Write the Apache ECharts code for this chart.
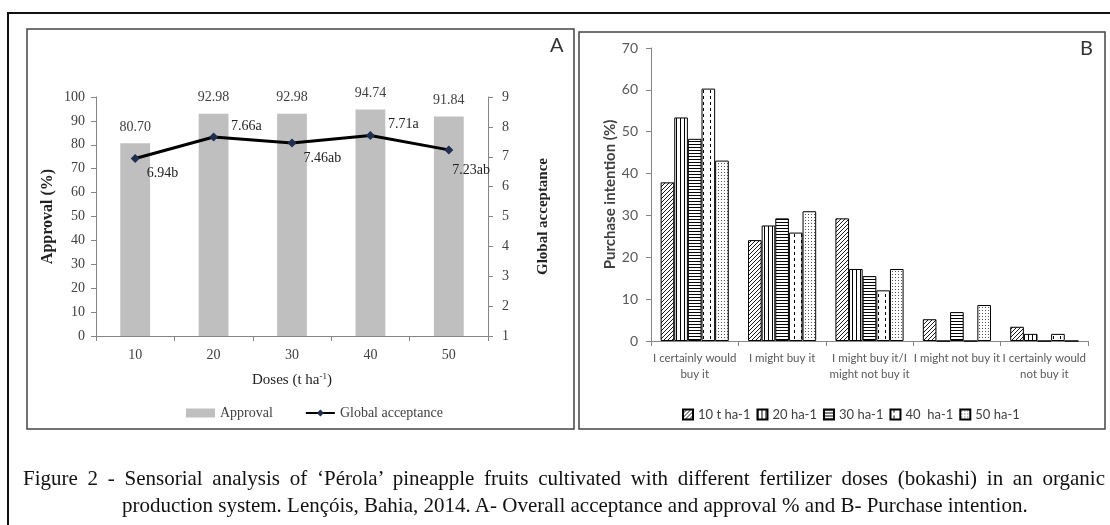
<!DOCTYPE html>
<html>
<head>
<meta charset="utf-8">
<script src="https://cdn.jsdelivr.net/npm/echarts@6/dist/echarts.min.js"></script>
<style>
html,body{margin:0;padding:0;background:#fff;}
#wrap{position:relative;width:1110px;height:525px;overflow:hidden;}
#chart{position:absolute;left:0;top:0;width:1110px;height:525px;}
.cap{position:absolute;font-family:'Liberation Serif','Times New Roman',serif;font-size:21px;line-height:27px;color:#111;white-space:nowrap;}
#cap1{left:23px;width:1082px;top:465px;text-align:justify;text-align-last:justify;}
#cap2{left:122px;top:492px;text-align:left;}
</style>
</head>
<body>
<div id="wrap">
<div id="chart"></div>
<div class="cap" id="cap1">Figure 2 - Sensorial analysis of ‘Pérola’ pineapple fruits cultivated with different fertilizer doses (bokashi) in an organic</div>
<div class="cap" id="cap2">production system. Lençóis, Bahia, 2014. A- Overall acceptance and approval % and B- Purchase intention.</div>
</div>
<script>
// ---------- Panel A data ----------
const doses = ['10', '20', '30', '40', '50'];
const approval = [80.70, 92.98, 92.98, 94.74, 91.84];
const acceptance = [6.94, 7.66, 7.46, 7.71, 7.23];
const acceptanceLetters = ['b', 'a', 'ab', 'a', 'ab'];

// ---------- Panel B data ----------
const intentions = ['I certainly would\nbuy it', 'I might buy it', 'I might buy it/I\nmight not buy it', 'I might not buy it', 'I certainly would\nnot buy it'];
const doseNamesB = ['10 t ha-1', '20 ha-1', '30 ha-1', '40  ha-1', '50 ha-1'];
const dose10 = [37.9, 24.1, 29.3, 5.2, 3.4];
const dose20 = [53.4, 27.6, 17.2, 0, 1.7];
const dose30 = [48.3, 29.3, 15.5, 6.9, 0];
const dose40 = [60.3, 25.9, 12.1, 0, 1.7];
const dose50 = [43.1, 31.0, 17.2, 8.6, 0];

// ---------- patterns ----------
function makePattern(w, h, draw) {
  const c = document.createElement('canvas');
  c.width = w; c.height = h;
  const ctx = c.getContext('2d');
  ctx.fillStyle = '#fff'; ctx.fillRect(0, 0, w, h);
  ctx.strokeStyle = '#000'; ctx.fillStyle = '#000';
  draw(ctx, w, h);
  return { image: c, repeat: 'repeat' };
}
const patDiag = makePattern(4, 4, (ctx) => {
  ctx.lineWidth = 0.9;
  ctx.beginPath();
  ctx.moveTo(0, 4); ctx.lineTo(4, 0);
  ctx.moveTo(-1, 1); ctx.lineTo(1, -1);
  ctx.moveTo(3, 5); ctx.lineTo(5, 3);
  ctx.stroke();
});
const patVert = makePattern(4, 1, (ctx) => { ctx.fillRect(0, 0, 1, 1); });
const patHorz = makePattern(1, 3, (ctx) => { ctx.fillRect(0, 0, 1, 1); });
const patDash = makePattern(7, 6, (ctx) => { ctx.fillRect(3, 0, 1, 3); });
const patDot = makePattern(3, 3, (ctx) => { ctx.fillStyle = '#555'; ctx.fillRect(1, 1, 1, 1); });
const patterns = [patDiag, patVert, patHorz, patDash, patDot];
const seriesB = [dose10, dose20, dose30, dose40, dose50];

const serif = "'Liberation Serif','Times New Roman',serif";
const sans = "Lato,'Open Sans',sans-serif";
const axisGray = '#868686';

const chart = echarts.init(document.getElementById('chart'), null, { renderer: 'canvas' });

const lastIdx = acceptance.length - 1;
const lineData = acceptance.map((v, i) => ({
  value: v,
  label: {
    position: 'right',
    distance: 5,
    offset: i === lastIdx ? [-6, 20] : (i % 2 === 1 ? [8, -11] : [2, 15])
  }
}));

const barSeriesB = seriesB.map((arr, k) => ({
  name: doseNamesB[k],
  type: 'bar',
  xAxisIndex: 1,
  yAxisIndex: 2,
  data: arr,
  barGap: '0%',
  barCategoryGap: '22%',
  itemStyle: { color: patterns[k], borderColor: '#000', borderWidth: 1 },
  emphasis: { disabled: true }
}));

const option = {
  animation: false,
  textStyle: { fontFamily: serif },
  graphic: [
    { type: 'rect', shape: { x: 8, y: 13, width: 1120, height: 530 }, style: { fill: 'none', stroke: '#111', lineWidth: 2 }, silent: true },
    { type: 'rect', shape: { x: 27, y: 29, width: 547, height: 400 }, style: { fill: 'none', stroke: '#444', lineWidth: 1.5 }, silent: true },
    { type: 'rect', shape: { x: 579, y: 32, width: 526, height: 397 }, style: { fill: 'none', stroke: '#444', lineWidth: 1.5 }, silent: true },
    { type: 'text', left: 550, top: 36, style: { text: 'A', font: "20px Lato, 'Open Sans', sans-serif", fill: '#333' } },
    { type: 'text', left: 1080, top: 39, style: { text: 'B', font: "20px Lato, 'Open Sans', sans-serif", fill: '#333' } }
  ],
  legend: [
    {
      data: [
        { name: 'Approval', icon: 'rect' },
        { name: 'Global acceptance' }
      ],
      left: 181, top: 401,
      itemWidth: 29, itemHeight: 9, itemGap: 32,
      textStyle: { fontFamily: serif, fontSize: 14, color: '#404040' },
      selectedMode: false
    },
    {
      data: doseNamesB.map((n) => ({ name: n, icon: 'rect' })),
      left: 677, top: 403,
      itemWidth: 10, itemHeight: 10, itemGap: 6,
      textStyle: { fontFamily: sans, fontSize: 13, color: '#404040' },
      selectedMode: false
    }
  ],
  grid: [
    { left: 96, top: 97, width: 392, height: 239 },
    { left: 651, top: 48, width: 437, height: 293 }
  ],
  xAxis: [
    {
      type: 'category', gridIndex: 0, data: doses,
      name: 'Doses (t ha{sup|-1})', nameLocation: 'middle', nameGap: 36,
      nameTextStyle: { fontFamily: serif, fontSize: 15, color: '#222', rich: { sup: { fontSize: 9, verticalAlign: 'top', padding: [0, 0, 7, 0], fontFamily: serif, color: '#222' } } },
      axisLine: { lineStyle: { color: axisGray, width: 1 } },
      axisTick: { show: true, length: 5, lineStyle: { color: axisGray } },
      axisLabel: { fontFamily: serif, fontSize: 14, color: '#404040', margin: 12 }
    },
    {
      type: 'category', gridIndex: 1, data: intentions,
      axisLine: { lineStyle: { color: axisGray, width: 1 } },
      axisTick: { show: true, length: 5, lineStyle: { color: axisGray } },
      axisLabel: { fontFamily: sans, fontSize: 11.5, color: '#595959', margin: 9, lineHeight: 16, interval: 0 }
    }
  ],
  yAxis: [
    {
      type: 'value', gridIndex: 0, min: 0, max: 100, interval: 10,
      name: 'Approval (%)', nameLocation: 'middle', nameGap: 40, nameRotate: 90,
      nameTextStyle: { fontFamily: serif, fontSize: 16, fontWeight: 'bold', color: '#222' },
      axisLine: { show: true, lineStyle: { color: axisGray } },
      axisTick: { show: true, length: 5, lineStyle: { color: axisGray } },
      splitLine: { show: false },
      axisLabel: { fontFamily: serif, fontSize: 14, color: '#404040', margin: 11 }
    },
    {
      type: 'value', gridIndex: 0, position: 'right', min: 1, max: 9, interval: 1,
      name: 'Global acceptance', nameLocation: 'middle', nameGap: 48, nameRotate: 90,
      nameTextStyle: { fontFamily: serif, fontSize: 15, fontWeight: 'bold', color: '#222' },
      axisLine: { show: true, lineStyle: { color: axisGray } },
      axisTick: { show: true, length: 5, lineStyle: { color: axisGray } },
      splitLine: { show: false },
      axisLabel: { fontFamily: serif, fontSize: 14, color: '#404040', margin: 14 }
    },
    {
      type: 'value', gridIndex: 1, min: 0, max: 70, interval: 10,
      name: 'Purchase intention (%)', nameLocation: 'middle', nameGap: 33, nameRotate: 90,
      nameTextStyle: { fontFamily: sans, fontSize: 15, fontWeight: 'bold', color: '#404040' },
      axisLine: { show: true, lineStyle: { color: axisGray } },
      axisTick: { show: true, length: 5, lineStyle: { color: axisGray } },
      splitLine: { show: false },
      axisLabel: { fontFamily: sans, fontSize: 14, color: '#595959', margin: 13 }
    }
  ],
  series: [
    {
      name: 'Approval', type: 'bar', xAxisIndex: 0, yAxisIndex: 0,
      data: approval, barCategoryGap: '62%',
      itemStyle: { color: '#bfbfbf' },
      label: { show: true, position: 'top', distance: 9, fontFamily: serif, fontSize: 14, color: '#404040', formatter: (p) => p.value.toFixed(2) },
      emphasis: { disabled: true }
    },
    {
      name: 'Global acceptance', type: 'line', xAxisIndex: 0, yAxisIndex: 1,
      data: lineData,
      symbol: 'diamond', symbolSize: 9,
      lineStyle: { color: '#000', width: 3 },
      itemStyle: { color: '#1f2f4f' },
      label: { show: true, fontFamily: serif, fontSize: 14, color: '#222', formatter: (p) => p.value.toFixed(2) + acceptanceLetters[p.dataIndex] },
      emphasis: { disabled: true }
    }
  ].concat(barSeriesB)
};
chart.setOption(option);
</script>
</body>
</html>
